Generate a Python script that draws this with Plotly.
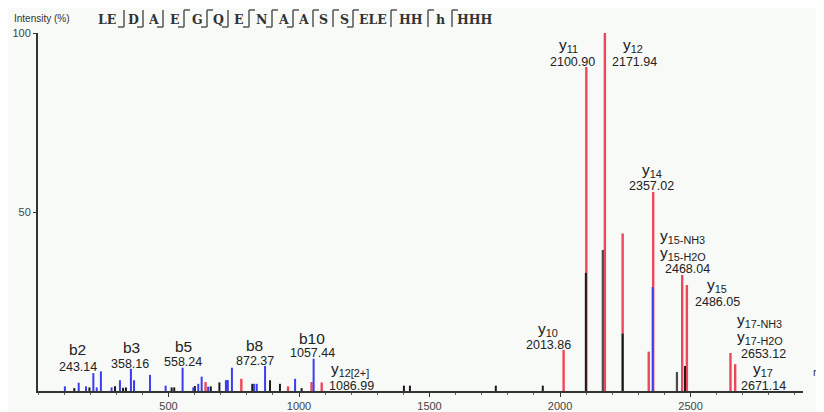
import plotly.graph_objects as go

# ---------------- data ----------------
red_mz = [642, 779, 958, 1048, 1087, 2013.86, 2100.90, 2171.94, 2240, 2340,
          2357.02, 2468.04, 2486.05, 2653.12, 2671.14]
red_int = [2.5, 3.4, 1.3, 2.5, 2.4, 11.5, 90.5, 100, 44, 11,
           55.6, 32.4, 29.6, 10.6, 7.5]

blue_mz = [103, 156, 184, 212, 225, 241, 282, 314, 356, 368, 429, 489, 554,
           595, 614, 627, 652, 720, 727, 743, 828, 838, 870, 985, 1056, 2355]
blue_int = [1.3, 2.3, 1.3, 5, 1, 5.5, 1, 3, 6.2, 3, 4.5, 1.5, 6.5,
            1, 2, 4, 1.2, 3, 3, 6.5, 2, 2, 7, 3.4, 9, 29]

black_mz = [139, 197, 295, 326, 337, 512, 522, 601, 662, 695, 725, 821, 889,
            927, 1010, 1402, 1425, 1754, 1934, 2099, 2240, 2479]
black_int = [0.8, 1, 1.3, 0.9, 1, 1, 1, 1.4, 1.3, 2.4, 3, 2, 3,
             2, 0.8, 1.5, 1.5, 1.5, 1.5, 33, 16, 7]

gray_mz = [2164, 2448]
gray_int = [39.4, 5.3]

# ion labels and their anchor positions (m/z, intensity)
ion_labels = ["b2", "b3", "b5", "b8", "b10", "y<sub>12[2+]</sub>", "y<sub>10</sub>",
              "y<sub>11</sub>", "y<sub>12</sub>", "y<sub>14</sub>",
              "y<sub>15-NH3</sub>", "y<sub>15-H2O</sub>", "y<sub>15</sub>",
              "y<sub>17-NH3</sub>", "y<sub>17-H2O</sub>", "y<sub>17</sub>"]
lab_x = [153, 360, 556, 831, 1050, 1195, 1954, 2031, 2280, 2352,
         2471, 2471, 2602, 2766, 2766, 2778]
lab_y = [11.5, 12.1, 12.3, 12.6, 14.8, 5.9, 17.3, 96.6, 96.6, 61.7,
         43.2, 38.3, 29.6, 19.6, 14.9, 6.1]

ion_values = ["243.14", "358.16", "558.24", "872.37", "1057.44", "1086.99", "2013.86",
              "2100.90", "2171.94", "2357.02", "2468.04", "2486.05", "2653.12", "2671.14"]
val_x = [153, 352, 556, 831, 1053, 1203, 1954, 2046, 2284, 2352, 2487, 2602, 2778, 2778]
val_y = [6.7, 7.6, 8.1, 8.4, 10.6, 1.4, 12.8, 91.9, 91.9, 57.3, 34.1, 24.9, 10.4, 1.4]

x_ticks = [500, 1000, 1500, 2000, 2500]
y_ticks = [50, 100]

residues = ["LE", "D", "A", "E", "G", "Q", "E", "N", "A", "A", "S", "S", "ELE", "HH", "h", "HHH"]
# separator marks: (b-ion, y-ion)
sep_b = [1, 1, 1, 1, 1, 1, 1, 1, 1, 0, 0, 1, 0, 0, 0]
sep_y = [0, 0, 0, 1, 1, 0, 1, 1, 1, 1, 1, 1, 1, 1, 1]

# ---------------- layout constants (page pixels) ----------------
OFF = 8                      # default body margin of the html page
PAGE_W, PAGE_H = 824, 412
W, H = PAGE_W - OFF, PAGE_H - OFF
PL, PR, PT, PB = 38, 803, 33, 391   # plot area in page pixels
L, R, T, B = PL - OFF, PAGE_W - PR, PT - OFF, PAGE_H - PB
PW, PH = PR - PL, PB - PT


def px(xp):
    return (xp - PL) / PW


def py(yp):
    return (PB - yp) / PH


res_px = [107, 133, 153, 175, 197, 218, 239, 261, 283, 303, 323, 344, 373, 411, 440, 475]
sep_px = [124, 143, 163, 184, 207, 228, 249, 272, 293, 313, 333, 353, 391, 428, 452]


def stems(mz, inten):
    xs, ys = [], []
    for m, i in zip(mz, inten):
        xs += [m, m, None]
        ys += [0, i, None]
    return xs, ys


fig = go.Figure()
for mz, it, col, w in [(red_mz, red_int, "#f0465c", 2.4),
                       (gray_mz, gray_int, "#4a4a4a", 2.2),
                       (black_mz, black_int, "#1a1a1a", 2.0),
                       (blue_mz, blue_int, "#3c3cf0", 2.0)]:
    xs, ys = stems(mz, it)
    fig.add_trace(go.Scatter(x=xs, y=ys, mode="lines",
                             line=dict(color=col, width=w), hoverinfo="skip"))

FONT = "Liberation Sans, Arial"
ann = []
for t, x, y in zip(ion_labels, lab_x, lab_y):
    ann.append(dict(x=x, y=y, text=t, showarrow=False, xanchor="center", yanchor="middle",
                    font=dict(family=FONT, size=15.5, color="#222")))
for t, x, y in zip(ion_values, val_x, val_y):
    ann.append(dict(x=x, y=y, text=t, showarrow=False, xanchor="center", yanchor="middle",
                    font=dict(family=FONT, size=12.5, color="#222")))

ann.append(dict(xref="paper", yref="paper", x=px(12), y=py(18), text="Intensity (%)",
                showarrow=False, xanchor="left", yanchor="middle",
                font=dict(family=FONT, size=10, color="#333")))
ann.append(dict(xref="paper", yref="paper", x=px(811), y=py(372), text="m/z",
                showarrow=False, xanchor="left", yanchor="middle",
                font=dict(family=FONT, size=11, color="#333")))

for r, xp in zip(residues, res_px):
    ann.append(dict(xref="paper", yref="paper", x=px(xp), y=py(19), text="<b>%s</b>" % r,
                    showarrow=False, xanchor="center", yanchor="middle",
                    font=dict(family="DejaVu Serif", size=12.5, color="#333")))

shapes = []
sc = dict(color="#555", width=1.5)
for xp, b, y in zip(sep_px, sep_b, sep_y):
    shapes.append(dict(type="line", xref="paper", yref="paper",
                       x0=px(xp), x1=px(xp), y0=py(10), y1=py(27), line=sc))
    if b:
        shapes.append(dict(type="line", xref="paper", yref="paper",
                           x0=px(xp - 6), x1=px(xp), y0=py(27), y1=py(27), line=sc))
    if y:
        shapes.append(dict(type="line", xref="paper", yref="paper",
                           x0=px(xp), x1=px(xp + 6), y0=py(10), y1=py(10), line=sc))

fig.update_layout(
    width=W, height=H,
    margin=dict(l=L, r=R, t=T, b=B, autoexpand=False),
    paper_bgcolor="#f7faf7", plot_bgcolor="#f7faf7",
    showlegend=False,
    annotations=ann, shapes=shapes,
    xaxis=dict(range=[0, 2931], showgrid=False, zeroline=False, automargin=False,
               showline=True, linecolor="#333", linewidth=2,
               ticks="outside", ticklen=4, tickcolor="#333",
               tickvals=x_ticks, ticktext=[str(v) for v in x_ticks],
               tickfont=dict(family=FONT, size=11, color="#444"),
               minor=dict(dtick=100, tick0=0, ticks="outside", ticklen=2, tickcolor="#666")),
    yaxis=dict(range=[0, 100], showgrid=False, zeroline=False, automargin=False,
               showline=True, linecolor="#333", linewidth=2,
               ticks="outside", ticklen=3, tickcolor="#333",
               tickvals=y_ticks, ticktext=[str(v) for v in y_ticks],
               tickfont=dict(family=FONT, size=11, color="#444")),
)

fig.write_html("out.html")
